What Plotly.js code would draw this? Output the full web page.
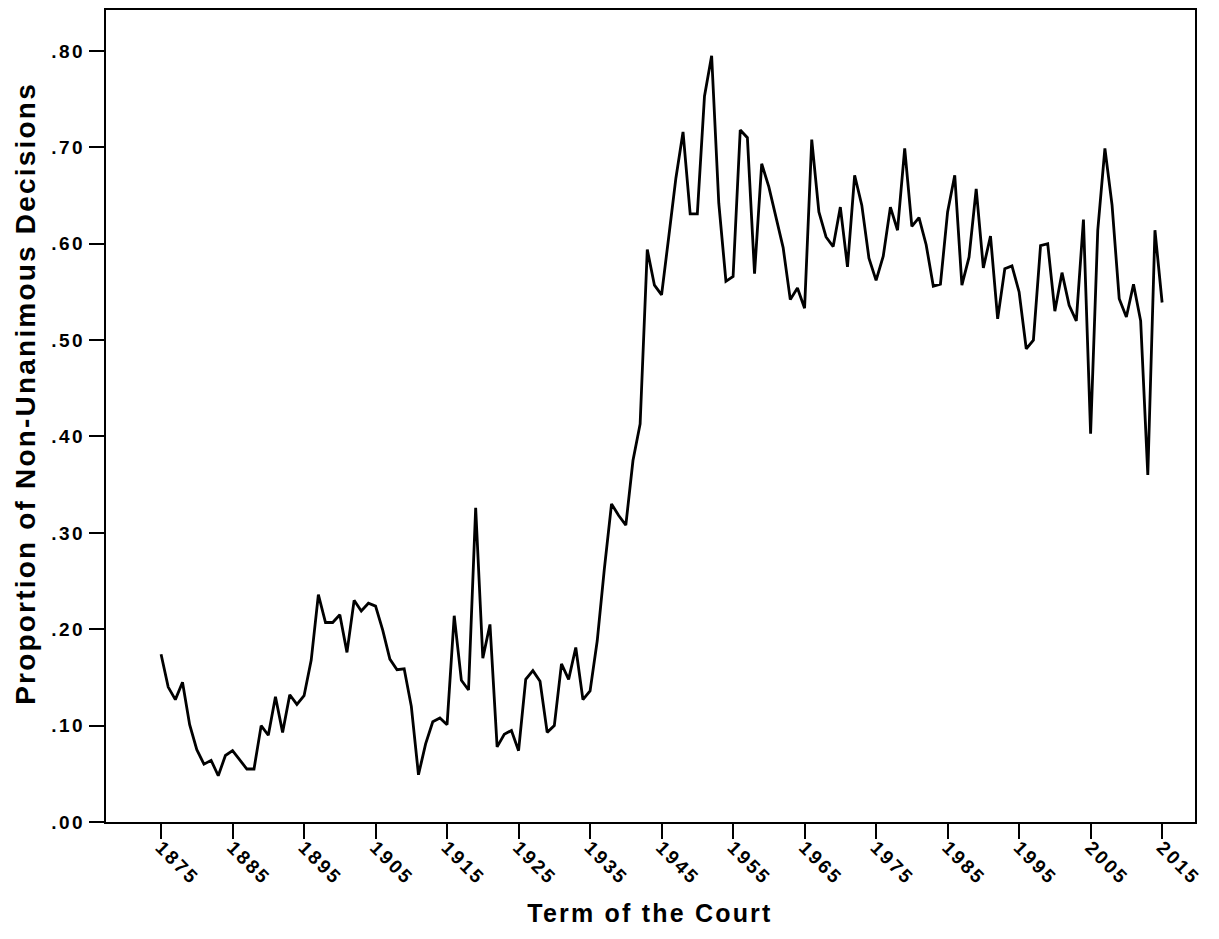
<!DOCTYPE html>
<html>
<head>
<meta charset="utf-8">
<script src="https://cdn.plot.ly/plotly-3.0.1.min.js"></script>
<style>
html,body{margin:0;padding:0;background:#fff;}
#chart{width:1219px;height:939px;}
#chart .xtick text, #chart .ytick text{letter-spacing:2.5px;}
#chart .annotation text{letter-spacing:2.2px;}
</style>
</head>
<body>
<div id="chart"></div>
<script>
var years = [];
for (var yr = 1875; yr <= 2015; yr++) years.push(yr);

var proportion = [
  0.174, 0.140, 0.127, 0.145, 0.101, 0.075, 0.060, 0.064, 0.048, 0.069,
  0.074, 0.064, 0.055, 0.055, 0.100, 0.090, 0.130, 0.093, 0.132, 0.122,
  0.131, 0.168, 0.236, 0.207, 0.207, 0.215, 0.176, 0.230, 0.219, 0.227,
  0.224, 0.199, 0.169, 0.158, 0.159, 0.120, 0.049, 0.081, 0.104, 0.108,
  0.101, 0.214, 0.147, 0.137, 0.326, 0.170, 0.205, 0.078, 0.091, 0.095,
  0.074, 0.148, 0.157, 0.146, 0.093, 0.100, 0.164, 0.148, 0.181, 0.127,
  0.136, 0.188, 0.263, 0.330, 0.318, 0.308, 0.375, 0.413, 0.594, 0.557,
  0.547, 0.607, 0.668, 0.716, 0.631, 0.631, 0.753, 0.795, 0.642, 0.561,
  0.566, 0.718, 0.710, 0.569, 0.683, 0.659, 0.628, 0.596, 0.542, 0.554,
  0.533, 0.708, 0.633, 0.607, 0.597, 0.638, 0.576, 0.671, 0.640, 0.585,
  0.562, 0.587, 0.638, 0.614, 0.699, 0.618, 0.627, 0.599, 0.556, 0.558,
  0.633, 0.671, 0.557, 0.586, 0.657, 0.575, 0.608, 0.522, 0.574, 0.577,
  0.550, 0.491, 0.500, 0.598, 0.600, 0.530, 0.570, 0.536, 0.520, 0.625,
  0.403, 0.614, 0.699, 0.640, 0.543, 0.524, 0.558, 0.520, 0.360, 0.614,
  0.539
];

var xTickVals = [1875, 1885, 1895, 1905, 1915, 1925, 1935, 1945, 1955, 1965, 1975, 1985, 1995, 2005, 2015];
var yTickVals = [0, 0.1, 0.2, 0.3, 0.4, 0.5, 0.6, 0.7, 0.8];
var yTickText = ['.00', '.10', '.20', '.30', '.40', '.50', '.60', '.70', '.80'];
var xTitle = 'Term of the Court';
var yTitle = 'Proportion of Non-Unanimous Decisions';

var fontFam = 'Liberation Sans, Arial, sans-serif';

var trace = {
  x: years,
  y: proportion,
  type: 'scatter',
  mode: 'lines',
  line: {color: '#000000', width: 2.8},
  hoverinfo: 'x+y'
};

var layout = {
  width: 1219,
  height: 939,
  margin: {l: 106, r: 24, t: 10, b: 117},
  paper_bgcolor: '#ffffff',
  plot_bgcolor: '#ffffff',
  showlegend: false,
  font: {family: fontFam, color: '#000000'},
  xaxis: {
    range: [1867.3, 2019.6],
    tickmode: 'array',
    tickvals: xTickVals,
    ticktext: xTickVals.map(String),
    tickangle: 45,
    ticks: 'outside',
    ticklen: 15,
    tickwidth: 2,
    tickcolor: '#000',
    ticklabelstandoff: -10,
    showgrid: false,
    zeroline: false,
    showline: true,
    mirror: true,
    linecolor: '#000',
    linewidth: 2,
    automargin: false,
    tickfont: {family: fontFam, size: 19, weight: 700, color: '#000'}
  },
  yaxis: {
    range: [0, 0.8425],
    tickmode: 'array',
    tickvals: yTickVals,
    ticktext: yTickText,
    ticks: 'outside',
    ticklen: 15,
    tickwidth: 2,
    tickcolor: '#000',
    showgrid: false,
    zeroline: false,
    showline: true,
    mirror: true,
    linecolor: '#000',
    linewidth: 2,
    automargin: false,
    tickfont: {family: fontFam, size: 19, weight: 700, color: '#000'}
  },
  annotations: [
    {
      text: xTitle, xref: 'paper', yref: 'paper',
      x: 0.5, y: -0.112, xanchor: 'center', yanchor: 'middle',
      showarrow: false,
      font: {family: fontFam, size: 25, weight: 700, color: '#000'}
    },
    {
      text: yTitle, xref: 'paper', yref: 'paper',
      x: -0.0745, y: 0.528, xanchor: 'center', yanchor: 'middle',
      textangle: -90, showarrow: false,
      font: {family: fontFam, size: 28, weight: 700, color: '#000'}
    }
  ]
};

Plotly.newPlot('chart', [trace], layout, {displayModeBar: false});
</script>
</body>
</html>
